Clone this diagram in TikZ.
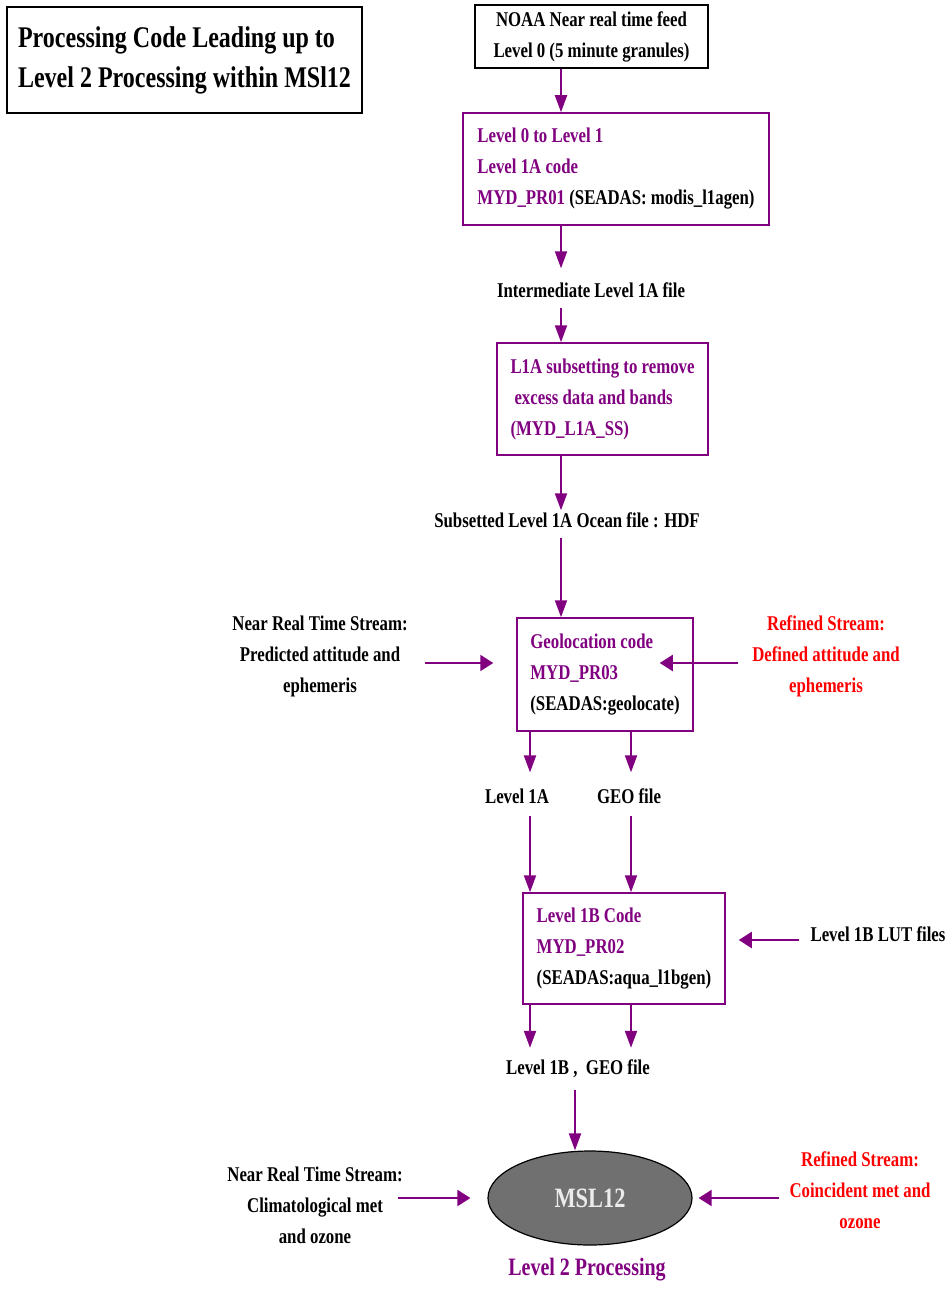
\documentclass[tikz,border=0pt]{standalone}
\usepackage{fontspec}
\setmainfont{Liberation Serif}[FakeStretch=0.8]
\usetikzlibrary{arrows.meta,shapes.geometric}
\definecolor{procpurple}{RGB}{128,0,128}
\definecolor{streamred}{RGB}{255,0,0}
\definecolor{mslgray}{RGB}{112,112,112}
\newcommand{\txtfont}{\bfseries\fontsize{21}{31}\selectfont}
\begin{document}
\begin{tikzpicture}[x=1pt,y=-1pt,
    every node/.style={font=\txtfont, inner sep=0pt},
    codebox/.style={draw=procpurple, line width=1.5pt, align=left, text=procpurple},
    flow/.style={draw=procpurple, line width=2pt, -{Triangle[length=17pt,width=12pt]}},
    flowh/.style={draw=procpurple, line width=2pt, -{Triangle[length=13pt,width=16pt]}},
    lbl/.style={align=center},
  ]
  \useasboundingbox (0,0) rectangle (950,1289);
  % Titolo
  \node[draw, line width=1.2pt, minimum width=355pt, minimum height=106pt, align=left,
    font=\bfseries\fontsize{30}{40}\selectfont] (title) at (184.5,60)
    {Processing Code Leading up to\\Level 2 Processing within MSl12};
  % Catena principale
  \node[draw, line width=1.5pt, minimum width=233pt, minimum height=63pt, align=center] (noaa) at (591.5,36.5)
    {NOAA Near real time feed\\Level 0 (5 minute granules)};
  \node[codebox, minimum width=306pt, minimum height=112pt] (l0l1) at (616,169)
    {Level 0 to Level 1\\Level 1A code\\MYD\_PR01 {\color{black}(SEADAS: modis\_l1agen)}};
  \node[lbl] (inter) at (591,290) {Intermediate Level 1A file};
  \node[codebox, minimum width=211pt, minimum height=112pt] (l1ass) at (602.5,399)
    {L1A subsetting to remove\\\hspace{4pt}excess data and bands\\(MYD\_L1A\_SS)};
  \node[lbl] (subset) at (567,520) {Subsetted Level 1A Ocean file : HDF};
  \node[codebox, minimum width=176pt, minimum height=113pt] (geo) at (605,674.5)
    {Geolocation code\\MYD\_PR03\\{\color{black}(SEADAS:geolocate)}};
  \node[lbl] (nrtgeo) at (320,656) {Near Real Time Stream:\\Predicted attitude and\\ephemeris};
  \node[lbl, text=streamred] (refgeo) at (826,656) {Refined Stream:\\Defined attitude and\\ephemeris};
  \node[lbl] (l1a) at (517,796) {Level 1A};
  \node[lbl] (geofile) at (629,796) {GEO file};
  \node[codebox, minimum width=202pt, minimum height=111pt] (l1b) at (624,948.5)
    {Level 1B Code\\MYD\_PR02\\{\color{black}(SEADAS:aqua\_l1bgen)}};
  \node[lbl] (lut) at (878,934) {Level 1B LUT files};
  \node[lbl] (l1bgeo) at (578,1069) {Level 1B ,\ \ GEO file};
  % Livello 2
  \node[ellipse, draw, line width=1.2pt, fill=mslgray, minimum width=204pt, minimum height=94pt,
    text=white!92!black, font=\bfseries\fontsize{28}{34}\selectfont] (msl) at (590,1198) {MSL12};
  \node[lbl, text=procpurple, font=\bfseries\fontsize{25}{30}\selectfont] (lvl2) at (587,1270) {Level 2 Processing};
  \node[lbl] (nrtmet) at (315,1205) {Near Real Time Stream:\\Climatological met\\and ozone};
  \node[lbl, text=streamred] (refmet) at (860,1190) {Refined Stream:\\Coincident met and\\ozone};
  % Frecce verticali
  \coordinate (axis) at (561,0);
  \coordinate (axisL) at (530,0);
  \coordinate (axisR) at (631,0);
  \coordinate (axisM) at (575,0);
  \draw[flow] (axis |- noaa.south) -- (axis |- l0l1.north);
  \draw[flow, shorten >=14pt] (axis |- l0l1.south) -- (axis |- inter.north);
  \draw[flow, shorten <=10pt] (axis |- inter.south) -- (axis |- l1ass.north);
  \draw[flow, shorten >=2pt] (axis |- l1ass.south) -- (axis |- subset.north);
  \draw[flow, shorten <=10pt] (axis |- subset.south) -- (axis |- geo.north);
  \foreach \ax/\lab in {axisL/l1a, axisR/geofile} {
    \draw[flow, shorten >=16pt] (\ax |- geo.south) -- (\ax |- \lab.north);
    \draw[flow, shorten <=12pt] (\ax |- \lab.south) -- (\ax |- l1b.north);
    \draw[flow, shorten >=12pt] (\ax |- l1b.south) -- (\ax |- l1bgeo.north);
  }
  \draw[flow, shorten <=12pt] (axisM |- l1bgeo.south) -- (axisM |- msl.north);
  % Frecce orizzontali
  \draw[flowh] ([xshift=17pt,yshift=-7pt]nrtgeo.east) -- ([xshift=-23pt,yshift=-7pt]geo.west |- nrtgeo.east);
  \draw[flowh] ([xshift=-14pt,yshift=-7pt]refgeo.west) -- ([xshift=-34pt,yshift=-7pt]geo.east |- refgeo.west);
  \draw[flowh] ([xshift=-11pt,yshift=-6pt]lut.west) -- ([xshift=13pt,yshift=-6pt]l1b.east |- lut.west);
  \draw[flowh] ([xshift=-5pt]nrtmet.east |- msl.west) -- ([xshift=-17pt]msl.west);
  \draw[flowh] ([xshift=-10pt]refmet.west |- msl.east) -- ([xshift=6pt]msl.east);
\end{tikzpicture}
\end{document}
